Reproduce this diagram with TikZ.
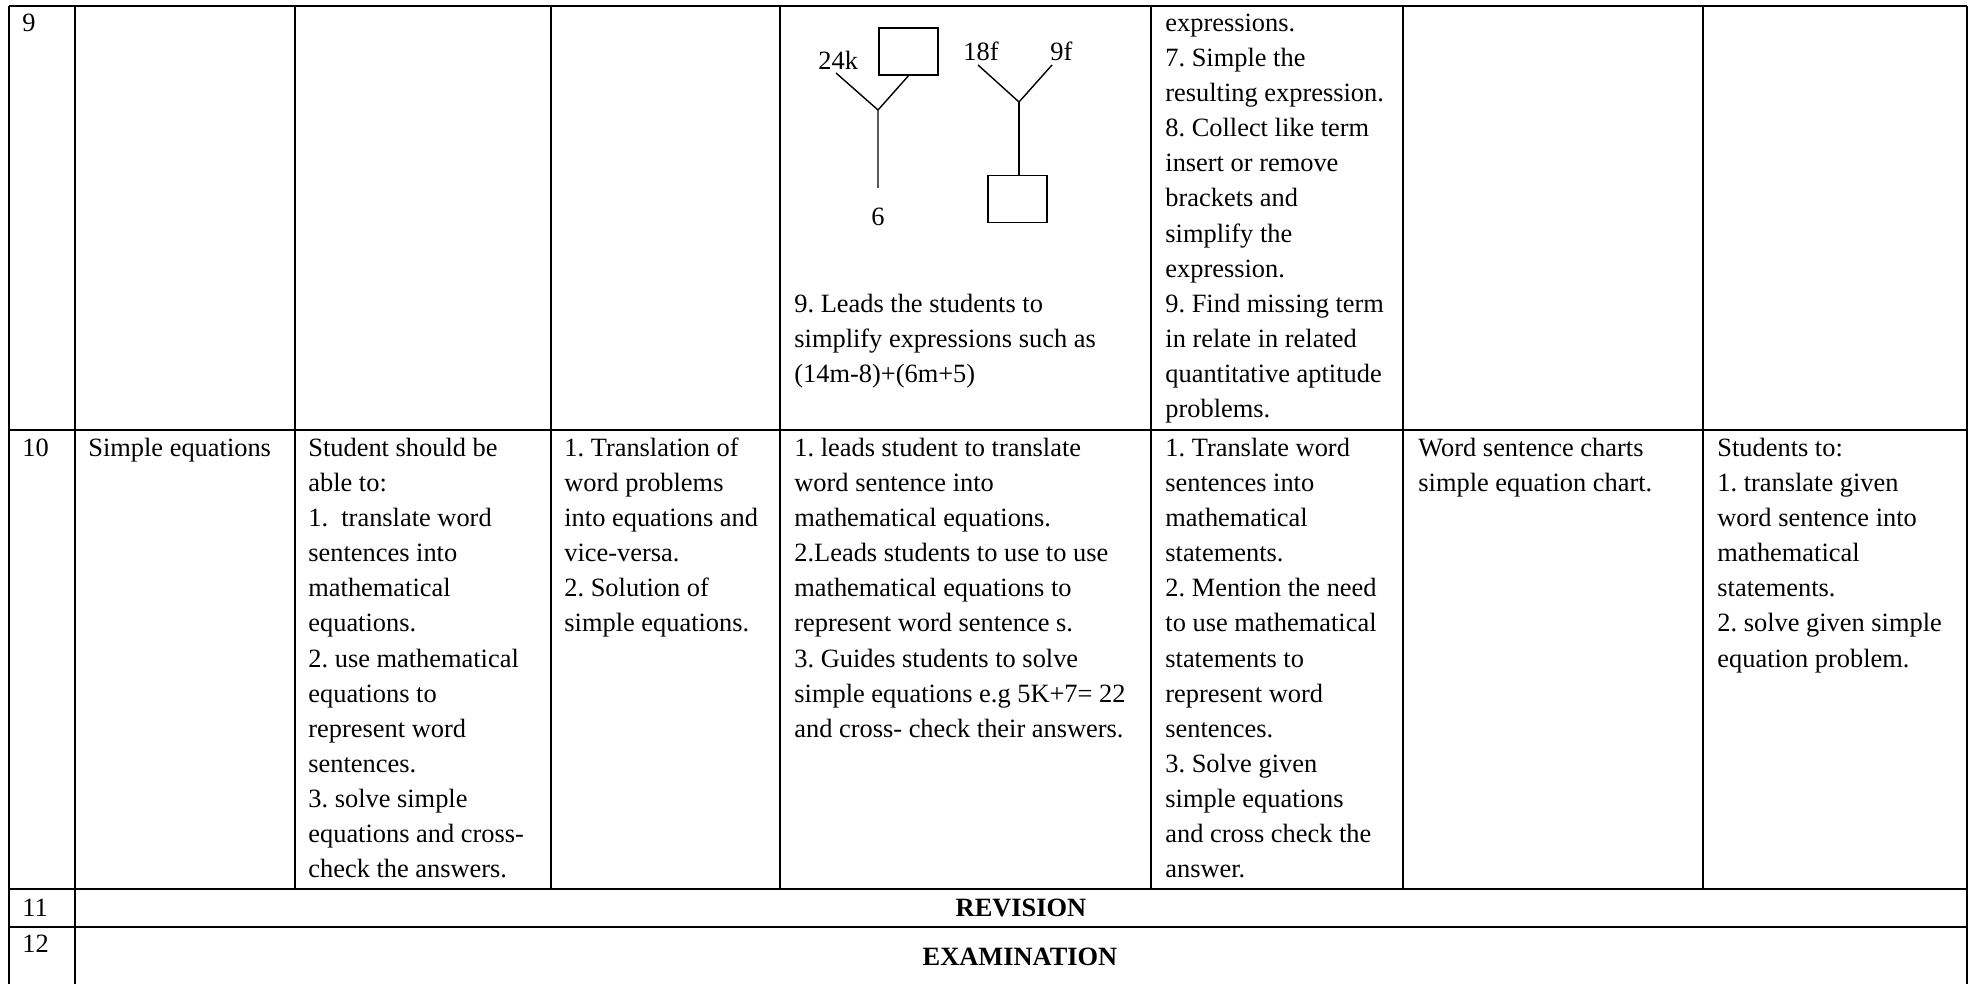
\documentclass[tikz,border=0pt]{standalone}
\usepackage{fontspec}
\setmainfont{Liberation Serif}
\frenchspacing
\newcommand\fs{\fontsize{13.2pt}{17.55pt}\selectfont\frenchspacing}
\newcommand\celltext[4]{\node[cell] (#1) at (#2,#3-24.57) {\strut #4};}
\begin{document}
\begin{tikzpicture}[x=0.5pt,y=-0.5pt,
  grid/.style={line width=0.65pt},
  cell/.style={anchor=north west,inner sep=0pt,align=left,font=\fs},
  lbl/.style={anchor=base west,inner sep=0pt,font=\fs},
  ctr/.style={anchor=base,inner sep=0pt,font=\fs},
  box/.style={draw,line width=0.7pt,minimum width=29.5pt,minimum height=23.5pt,inner sep=0pt},
  arm/.style={line width=0.7pt}]
\useasboundingbox (0,0) rectangle (1974,984);
% grid
\draw[grid] (9,6) -- (1967,6);
\draw[grid] (9,430) -- (1967,430);
\draw[grid] (9,889) -- (1967,889);
\draw[grid] (9,927) -- (1967,927);
\draw[grid] (9,6) -- (9,984);
\draw[grid] (75,6) -- (75,984);
\draw[grid] (1967,6) -- (1967,984);
\foreach \cx in {295,551,780,1151,1403,1703}{\draw[grid] (\cx,6) -- (\cx,889);}
% row 9
\celltext{r9a}{22}{31}{9}
\celltext{r9e}{794}{311.8}{9. Leads the students to\\simplify expressions such as\\(14m-8)+(6m+5)}
\celltext{r9f}{1165}{31}{expressions.\\7. Simple the\\resulting expression.\\8. Collect like term\\insert or remove\\brackets and\\simplify the\\expression.\\9. Find missing term\\in relate in related\\quantitative aptitude\\problems.}
% diagram
\node[box] (sqA) at (908.5,51.5) {};
\node[box] (sqB) at (1017.5,199) {};
\node[lbl] (t24) at (818,70) {24k};
\node[lbl] (t18) at (963,61) {18f};
\node[lbl] (t9f) at (1050,61) {9f};
\node[ctr] (t6) at (878,226) {6};
\coordinate (a1) at (836,73);
\coordinate (jA) at (878,110);
\coordinate (eA) at (878,188);
\coordinate (b1) at (978,65);
\coordinate (b2) at (1052,65);
\coordinate (jB) at (1019,102);
\draw[arm] (a1) -- (jA) -- (eA);
\draw[arm] (sqA.south) -- (jA);
\draw[arm] (b1) -- (jB) -- (b2);
\draw[arm] (jB) -- (jB |- sqB.north);
% row 10
\celltext{r10a}{22}{456}{10}
\celltext{r10b}{88}{456}{Simple equations}
\celltext{r10c}{308}{456}{Student should be\\able to:\\1.\ \ translate word\\sentences into\\mathematical\\equations.\\2. use mathematical\\equations to\\represent word\\sentences.\\3. solve simple\\equations and cross-\\check the answers.}
\celltext{r10d}{564}{456}{1. Translation of\\word problems\\into equations and\\vice-versa.\\2. Solution of\\simple equations.}
\celltext{r10e}{794}{456}{1. leads student to translate\\word sentence into\\mathematical equations.\\2.Leads students to use to use\\mathematical equations to\\represent word sentence s.\\3. Guides students to solve\\simple equations e.g 5K+7= 22\\and cross- check their answers.}
\celltext{r10f}{1165}{456}{1. Translate word\\sentences into\\mathematical\\statements.\\2. Mention the need\\to use mathematical\\statements to\\represent word\\sentences.\\3. Solve given\\simple equations\\and cross check the\\answer.}
\celltext{r10g}{1418}{456}{Word sentence charts\\simple equation chart.}
\celltext{r10h}{1717}{456}{Students to:\\1. translate given\\word sentence into\\mathematical\\statements.\\2. solve given simple\\equation problem.}
% rows 11 and 12
\node[lbl] (r11a) at (22,916) {11};
\node[ctr,font=\fs\bfseries] (rev) at (1021,916) {REVISION};
\node[lbl] (r12a) at (22,952) {12};
\node[ctr,font=\fs\bfseries] (exam) at (1020,965) {EXAMINATION};
\end{tikzpicture}
\end{document}
